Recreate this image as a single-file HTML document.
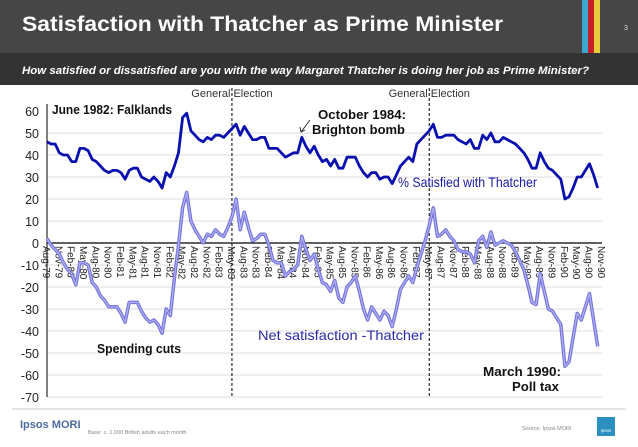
<!DOCTYPE html>
<html><head><meta charset="utf-8"><style>
body{margin:0;width:638px;height:442px;overflow:hidden;background:#fff;font-family:"Liberation Sans",sans-serif}
</style></head><body>
<svg width="638" height="442" viewBox="0 0 638 442">
<rect x="0" y="0" width="638" height="53" fill="#464646"/>
<rect x="0" y="53" width="638" height="32" fill="#333"/>
<rect x="582" y="0" width="6" height="53" fill="#3aa8d0"/>
<rect x="588" y="0" width="6" height="53" fill="#c8202a"/>
<rect x="594" y="0" width="6" height="53" fill="#e6cc3a"/>
<text x="22" y="31" fill="#fff" font-size="21" font-weight="bold" textLength="481" lengthAdjust="spacingAndGlyphs">Satisfaction with Thatcher as Prime Minister</text>
<text x="626" y="30" fill="#ddd" font-size="7" text-anchor="middle">3</text>
<text x="22" y="74" fill="#fff" font-size="11" font-weight="bold" font-style="italic" textLength="567" lengthAdjust="spacingAndGlyphs">How satisfied or dissatisfied are you with the way Margaret Thatcher is doing her job as Prime Minister?</text>
<g id="chart"></g>
<line x1="12" y1="409" x2="626" y2="409" stroke="#ccc"/>
<text x="20" y="428" fill="#4a6c9e" font-size="11" font-weight="bold">Ipsos MORI</text>
<text x="88" y="434" fill="#888" font-size="5.5">Base: c. 1,000 British adults each month</text>
<text x="522" y="430" fill="#888" font-size="5.5">Source: Ipsos MORI</text>
<rect x="597" y="417" width="18" height="19" fill="#2b8fc0"/>
<text x="606" y="432" fill="#fff" font-size="4.5" text-anchor="middle">Ipsos</text>
</svg>
<script>
const satisfied=[46,45,45,41,40,40,37,37,43,43,42,38,37,35,33,32,33,33,32,29,33,34,34,30,29,28,30,28,25,32,30,35,41,57,59,51,49,47,46,48,47,49,49,48,50,52,54,49,53,50,47,47,48,48,43,43,43,41,39,40,41,41,48,44,41,44,40,37,38,35,38,34,34,39,39,39,35,32,30,32,32,29,30,30,27,31,35,37,39,37,45,47,49,51,54,48,48,49,49,49,47,46,45,47,43,43,49,47,50,46,46,48,47,46,45,43,41,38,34,34,41,37,34,33,31,29,20,21,25,30,30,33,36,31,25];
const netSat=[2,-1,-3,-5,-9,-12,-14,-19,-9,-9,-10,-18,-20,-24,-26,-29,-29,-29,-32,-36,-27,-27,-27,-31,-34,-36,-35,-37,-41,-30,-33,-16,-1,16,23,10,6,3,0,4,3,6,4,3,7,12,20,6,14,7,1,2,4,4,-1,-8,-9,-9,-15,-13,-12,-10,3,-3,-8,-5,-12,-18,-19,-22,-17,-25,-27,-20,-18,-15,-22,-30,-35,-29,-32,-35,-31,-33,-38,-30,-21,-18,-15,-18,-11,-5,1,8,16,3,4,6,3,1,-3,-4,-4,-5,-9,1,3,-2,5,-1,0,1,0,-1,-4,-8,-12,-19,-27,-28,-14,-22,-30,-31,-34,-37,-56,-54,-43,-32,-35,-29,-23,-35,-47];
const yTicks=[60,50,40,30,20,10,0,-10,-20,-30,-40,-50,-60,-70];
const mon=["Aug","Nov","Feb","May"];
const elections=[45,93];
const NS="http://www.w3.org/2000/svg";
const g=document.getElementById('chart');
const X=i=>47+i*4.11;
const Y=v=>243-v*2.2;
function mk(t,a,p){const e=document.createElementNS(NS,t);for(const k in a)e.setAttribute(k,a[k]);(p||g).appendChild(e);return e;}
yTicks.forEach(v=>{
 if(v!==0&&v!==60){const l=mk('line',{x1:47,x2:602,y1:Y(v),y2:Y(v),stroke:'#dcdcdc'});
 
 }
 const t=mk('text',{x:39,y:Y(v)+5,'font-size':12.5,'text-anchor':'end',fill:'#222'});t.textContent=v;
 
 
});
const ax=mk('line',{x1:47,x2:47,y1:104,y2:Y(-70),stroke:'#000'});


const zx=mk('line',{x1:47,x2:602,y1:243,y2:243,stroke:'#000','stroke-width':1.3});


for(let i=0;i<=135;i+=3){
 const yr=79+Math.floor((i+7)/12);
 const t=mk('text',{transform:`translate(${X(i)-4},246) rotate(90)`,'font-size':10,fill:'#222'});
 t.textContent=mon[(i/3)%4]+'-'+String(yr%100).padStart(2,'0');
 
 
}
elections.forEach(i=>{
 const l=mk('line',{x1:X(i),x2:X(i),y1:88,y2:Y(-70),stroke:'#000','stroke-dasharray':'3,2'});
 
 
 const t=mk('text',{x:X(i),y:97,'font-size':11,'text-anchor':'middle',fill:'#333'});t.textContent='General Election';
 
 
});
const pts=a=>a.map((v,i)=>X(i).toFixed(1)+','+Y(v).toFixed(1)).join(' ');
const n1=mk('polyline',{points:pts(netSat),fill:'none',stroke:'#7676de','stroke-width':3.5,'stroke-linejoin':'round'});


const n2=mk('polyline',{points:pts(netSat),fill:'none',stroke:'#b4b4f2','stroke-width':1.1,'stroke-linejoin':'round'});


const s=mk('polyline',{points:pts(satisfied),fill:'none',stroke:'#0a10b0','stroke-width':2.8,'stroke-linejoin':'round'});


function lab(x,y,txt,sz,w,c,name,len){const a={x:x,y:y,'font-size':sz,'font-weight':w,fill:c};if(len){a.textLength=len;a.lengthAdjust='spacingAndGlyphs';}
 const t=mk('text',a);t.textContent=txt;
 
 }
lab(52,114,'June 1982: Falklands',13,'bold','#111','falklands-annotation',120);
lab(318,119,'October 1984:',13,'bold','#111','brighton-annotation-line1',88);
lab(312,134,'Brighton bomb',13,'bold','#111','brighton-annotation-line2',93);
const ar=mk('line',{x1:310,y1:120,x2:301,y2:132,stroke:'#111','stroke-width':0.8});


const ah=mk('polyline',{points:'300,127 301,132 305,130',fill:'none',stroke:'#111','stroke-width':0.8});


lab(398,187,'% Satisfied with  Thatcher',14,'normal','#1a1aa6','satisfied-series-label',139);
lab(258,340,'Net satisfaction -Thatcher',14,'normal','#2a2aa8','net-series-label',166);
lab(97,353,'Spending cuts',13,'bold','#111','spending-cuts-annotation',84);
lab(483,376,'March 1990:',13,'bold','#111','poll-tax-annotation-line1',78);
lab(512,391,'Poll tax',13,'bold','#111','poll-tax-annotation-line2',47);
</script>
</body></html>
